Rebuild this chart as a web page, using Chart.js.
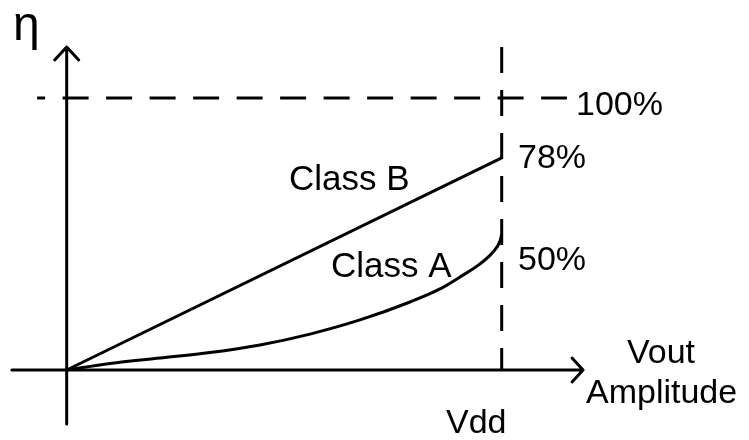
<!DOCTYPE html>
<html>
<head>
<meta charset="utf-8">
<script src="https://cdn.jsdelivr.net/npm/chart.js@4"></script>
<style>
  body { margin: 0; background: #fff; }
  #wrap { width: 749px; height: 440px; }
</style>
</head>
<body>
<div id="wrap"><canvas id="myChart" width="749" height="440"></canvas></div>
<script>
// Output amplitude, normalised to Vdd
const classAAmplitude = [0, 0.0995, 0.2145, 0.3294, 0.4444, 0.5593, 0.6742, 0.7892, 0.8582, 0.9041, 0.9501, 0.980, 0.9961, 1.0];
// Class A efficiency (%)
const classAEfficiency = [0, 2.4, 4.4, 6.4, 9.2, 13.2, 18.4, 25.0, 29.8, 34.2, 39.0, 43.4, 47.4, 50];

// Class B is linear up to its maximum at Vdd
const classBAmplitude = [0, 1.0];
const classBEfficiency = [0, 78];

// Reference lines: ideal 100% and the Vdd limit
const idealEfficiency = 100;
const idealLineSpan = [-0.068, 1.150];
const vddAmplitude = 1.0;
const vddLineSpan = [118.75, 0];

// Axis extents (data units)
const xAxisSpan = [-0.126, 1.187];
const yAxisSpan = [-19.85, 118.75];

const curveLabels = ['Class B', 'Class A'];
const valueLabels = ['100%', '78%', '50%'];
const axisLabels = ['η', 'Vout', 'Amplitude', 'Vdd'];

const toPoints = (xs, ys) => xs.map((x, i) => ({ x: x, y: ys[i] }));

// Text placement (left, baseline) in canvas pixels
const textLayout = [
    { text: axisLabels[0], x: 13, y: 40, size: 48 },
    { text: valueLabels[0], x: 576, y: 115, size: 34 },
    { text: valueLabels[1], x: 518, y: 168, size: 34 },
    { text: valueLabels[2], x: 518, y: 270, size: 34 },
    { text: curveLabels[0], x: 289, y: 190, size: 35 },
    { text: curveLabels[1], x: 331, y: 277, size: 35 },
    { text: axisLabels[1], x: 627, y: 363, size: 34 },
    { text: axisLabels[2], x: 586, y: 403, size: 34 },
    { text: axisLabels[3], x: 446, y: 433, size: 34 }
];

// Axes with arrowheads, plus the text
const diagramPlugin = {
    id: 'diagram',
    afterDatasetsDraw(chart) {
        const ctx = chart.ctx;
        const xs = chart.scales.x, ys = chart.scales.y;
        const x0 = xs.getPixelForValue(0), y0 = ys.getPixelForValue(0);
        const xEnd = xs.getPixelForValue(xAxisSpan[1]);
        const yEnd = ys.getPixelForValue(yAxisSpan[1]);

        ctx.save();
        ctx.strokeStyle = '#000';
        ctx.lineWidth = 3;
        ctx.lineCap = 'round';
        ctx.lineJoin = 'round';
        ctx.beginPath();
        ctx.moveTo(xs.getPixelForValue(xAxisSpan[0]), y0);
        ctx.lineTo(xEnd, y0);
        ctx.moveTo(x0, ys.getPixelForValue(yAxisSpan[0]));
        ctx.lineTo(x0, yEnd);
        // arrowheads
        ctx.moveTo(xEnd - 11, y0 - 12);
        ctx.lineTo(xEnd, y0);
        ctx.lineTo(xEnd - 11, y0 + 12);
        ctx.moveTo(x0 - 12, yEnd + 13);
        ctx.lineTo(x0, yEnd);
        ctx.lineTo(x0 + 12, yEnd + 13);
        ctx.stroke();

        ctx.fillStyle = '#000';
        ctx.textAlign = 'left';
        ctx.textBaseline = 'alphabetic';
        textLayout.forEach(t => {
            ctx.font = t.size + 'px "Liberation Sans", Arial, sans-serif';
            ctx.fillText(t.text, t.x, t.y);
        });
        ctx.restore();
    }
};

const lineStyle = {
    borderColor: '#000',
    borderWidth: 3,
    pointRadius: 0,
    fill: false
};

const config = {
    type: 'line',
    data: {
        datasets: [
            Object.assign({
                label: curveLabels[0],
                data: toPoints(classBAmplitude, classBEfficiency),
                tension: 0
            }, lineStyle),
            Object.assign({
                label: curveLabels[1],
                data: toPoints(classAAmplitude, classAEfficiency),
                cubicInterpolationMode: 'monotone'
            }, lineStyle),
            Object.assign({
                label: valueLabels[0],
                data: toPoints(idealLineSpan, [idealEfficiency, idealEfficiency]),
                borderDash: [26, 17.5],
                borderDashOffset: 18
            }, lineStyle),
            Object.assign({
                label: axisLabels[3],
                data: toPoints([vddAmplitude, vddAmplitude], vddLineSpan),
                borderDash: [26, 17]
            }, lineStyle)
        ]
    },
    options: {
        responsive: false,
        animation: false,
        layout: { padding: 0 },
        scales: {
            x: {
                type: 'linear',
                display: false,
                min: -0.1533,
                max: 1.5685
            },
            y: {
                type: 'linear',
                display: false,
                min: -25.74,
                max: 136.03
            }
        },
        plugins: {
            legend: { display: false },
            tooltip: { enabled: false },
            title: { display: false }
        }
    },
    plugins: [diagramPlugin]
};

new Chart(document.getElementById('myChart'), config);
</script>
</body>
</html>
